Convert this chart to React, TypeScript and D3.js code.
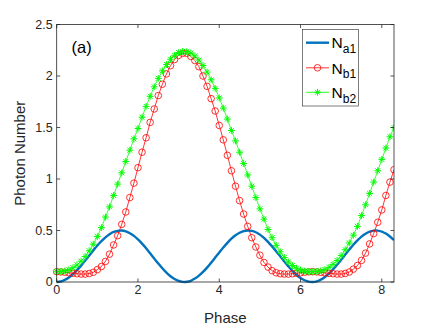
import React from "react";
import * as d3 from "d3";

// phase samples (x) and the three photon-number curves
const phase = [
  0, 0.1, 0.2, 0.3, 0.4, 0.5, 0.6, 0.7, 0.8, 0.9, 1.0, 1.1, 1.2, 1.3, 1.4, 1.5, 1.6, 1.7, 1.8, 1.9,
  2.0, 2.1, 2.2, 2.3, 2.4, 2.5, 2.6, 2.7, 2.8, 2.9, 3.0, 3.1, 3.2, 3.3, 3.4, 3.5, 3.6, 3.7, 3.8, 3.9,
  4.0, 4.1, 4.2, 4.3, 4.4, 4.5, 4.6, 4.7, 4.8, 4.9, 5.0, 5.1, 5.2, 5.3, 5.4, 5.5, 5.6, 5.7, 5.8, 5.9,
  6.0, 6.1, 6.2, 6.3, 6.4, 6.5, 6.6, 6.7, 6.8, 6.9, 7.0, 7.1, 7.2, 7.3, 7.4, 7.5, 7.6, 7.7, 7.8, 7.9,
  8.0, 8.1, 8.2, 8.3,
];

const na1 = [
  0, 0.005, 0.02, 0.044, 0.076, 0.115, 0.159, 0.208, 0.257, 0.307, 0.354, 0.397, 0.434, 0.464, 0.486, 0.497, 0.5, 0.492, 0.474, 0.448,
  0.413, 0.373, 0.327, 0.278, 0.228, 0.179, 0.133, 0.091, 0.056, 0.029, 0.01, 0.001, 0.002, 0.012, 0.033, 0.062, 0.098, 0.14, 0.187, 0.237,
  0.286, 0.335, 0.38, 0.42, 0.453, 0.478, 0.494, 0.5, 0.496, 0.483, 0.46, 0.429, 0.39, 0.346, 0.299, 0.249, 0.199, 0.152, 0.108, 0.07,
  0.039, 0.017, 0.003, 0, 0.007, 0.023, 0.049, 0.082, 0.122, 0.167, 0.216, 0.266, 0.315, 0.362, 0.404, 0.44, 0.468, 0.488, 0.499, 0.499,
  0.489, 0.47, 0.442, 0.407,
];

const nb1 = [
  0.1, 0.098, 0.095, 0.09, 0.085, 0.08, 0.077, 0.077, 0.082, 0.094, 0.12, 0.15, 0.2, 0.27, 0.36, 0.45, 0.56, 0.68, 0.82, 0.96,
  1.11, 1.26, 1.4, 1.55, 1.68, 1.81, 1.92, 2.02, 2.1, 2.16, 2.2, 2.22, 2.22, 2.19, 2.15, 2.09, 2.0, 1.9, 1.78, 1.66,
  1.52, 1.38, 1.23, 1.08, 0.93, 0.79, 0.66, 0.54, 0.43, 0.34, 0.26, 0.19, 0.145, 0.11, 0.09, 0.08, 0.077, 0.077, 0.08, 0.085,
  0.09, 0.095, 0.099, 0.1, 0.098, 0.094, 0.089, 0.084, 0.08, 0.077, 0.077, 0.083, 0.097, 0.125, 0.16, 0.21, 0.28, 0.37, 0.47, 0.58,
  0.7, 0.84, 0.97, 1.09,
];

const nb2 = [
  0.1, 0.101, 0.107, 0.118, 0.138, 0.165, 0.202, 0.247, 0.303, 0.367, 0.441, 0.528, 0.63, 0.73, 0.84, 0.95, 1.06, 1.17, 1.28, 1.39,
  1.49, 1.6, 1.705, 1.803, 1.895, 1.977, 2.05, 2.112, 2.163, 2.201, 2.227, 2.239, 2.237, 2.223, 2.195, 2.155, 2.102, 2.038, 1.963, 1.88,
  1.787, 1.688, 1.582, 1.471, 1.37, 1.26, 1.15, 1.04, 0.93, 0.82, 0.71, 0.61, 0.51, 0.43, 0.356, 0.293, 0.239, 0.195, 0.16, 0.134,
  0.116, 0.106, 0.101, 0.1, 0.102, 0.109, 0.121, 0.142, 0.171, 0.209, 0.256, 0.313, 0.379, 0.455, 0.54, 0.645, 0.75, 0.86, 0.97, 1.08,
  1.19, 1.3, 1.41, 1.5,
];

const xTicks = [0, 2, 4, 6, 8];
const yTicks = [0, 0.5, 1, 1.5, 2, 2.5];
const legendLabels = [
  { main: "N", sub: "a1" },
  { main: "N", sub: "b1" },
  { main: "N", sub: "b2" },
];

const W = 436;
const H = 327;
const left = 56.7;
const right = 394;
const top = 24.5;
const bottom = 282;

const axisColor = "#262626";
const blue = "#0072BD";
const red = "#FF0000";
const green = "#00FF00";
const font = "'Liberation Sans', Arial, sans-serif";

const star = (r: number) =>
  `M${-r},0L${r},0M0,${-r}L0,${r}` +
  `M${-r * 0.72},${-r * 0.72}L${r * 0.72},${r * 0.72}M${-r * 0.72},${r * 0.72}L${r * 0.72},${-r * 0.72}`;

export default function App() {
  const x = d3.scaleLinear().domain([0, 8.3]).range([left, right]);
  const y = d3.scaleLinear().domain([0, 2.5]).range([bottom, top]);

  const pts = (vals: number[]) => phase.map((p, i) => [p, vals[i]] as [number, number]);

  const smooth = d3
    .line<[number, number]>()
    .x((d) => x(d[0]))
    .y((d) => y(d[1]))
    .curve(d3.curveCatmullRom);
  const straight = d3
    .line<[number, number]>()
    .x((d) => x(d[0]))
    .y((d) => y(d[1]));

  const tick = 3.5;
  const legX = 302.5;
  const legY = 29.5;
  const rowY = [42.7, 67.8, 92.3];

  return (
    <svg
      width={W}
      height={H}
      style={{ position: "absolute", left: 0, top: 0, background: "#fff" }}
      fontFamily={font}
    >
      <rect x={0} y={0} width={W} height={H} fill="#fff" />
      <rect x={left} y={top} width={right - left} height={bottom - top} fill="#fff" />

      {/* curves */}
      <g clipPath="url(#plotclip)">
        <path d={smooth(pts(na1)) || ""} fill="none" stroke={blue} strokeWidth={2.4} />
        <path d={straight(pts(nb1)) || ""} fill="none" stroke={red} strokeWidth={0.8} />
        {pts(nb1).map((d, i) => (
          <circle key={"r" + i} cx={x(d[0])} cy={y(d[1])} r={3.3} fill="none" stroke={red} strokeWidth={0.8} />
        ))}
        <path d={straight(pts(nb2)) || ""} fill="none" stroke={green} strokeWidth={0.8} />
        {pts(nb2).map((d, i) => (
          <path
            key={"g" + i}
            d={star(3.4)}
            transform={`translate(${x(d[0])},${y(d[1])})`}
            stroke={green}
            strokeWidth={1}
            fill="none"
          />
        ))}
      </g>
      <defs>
        <clipPath id="plotclip">
          <rect x={left - 4} y={top - 4} width={right - left + 4} height={bottom - top + 8} />
        </clipPath>
      </defs>

      {/* box and ticks */}
      <rect x={left} y={top} width={right - left} height={bottom - top} fill="none" stroke={axisColor} strokeWidth={0.8} />
      {xTicks.map((t) => (
        <g key={"xt" + t}>
          <line x1={x(t)} x2={x(t)} y1={bottom} y2={bottom - tick} stroke={axisColor} strokeWidth={0.8} />
          <line x1={x(t)} x2={x(t)} y1={top} y2={top + tick} stroke={axisColor} strokeWidth={0.8} />
          <text x={x(t)} y={bottom + 11.5} textAnchor="middle" fontSize={12.5} fill={axisColor}>
            {t}
          </text>
        </g>
      ))}
      {yTicks.map((t) => (
        <g key={"yt" + t}>
          <line x1={left} x2={left + tick} y1={y(t)} y2={y(t)} stroke={axisColor} strokeWidth={0.8} />
          <line x1={right} x2={right - tick} y1={y(t)} y2={y(t)} stroke={axisColor} strokeWidth={0.8} />
          <text x={left - 4} y={y(t) + 4.4} textAnchor="end" fontSize={12.5} fill={axisColor}>
            {t}
          </text>
        </g>
      ))}

      {/* labels */}
      <text x={(left + right) / 2} y={323} textAnchor="middle" fontSize={15} fill={axisColor}>
        Phase
      </text>
      <text
        transform={`translate(25,${(top + bottom) / 2}) rotate(-90)`}
        textAnchor="middle"
        fontSize={15}
        fill={axisColor}
      >
        Photon Number
      </text>
      <text x={71.5} y={53} fontSize={16.5} fill="#000">
        (a)
      </text>

      {/* legend */}
      <rect x={legX} y={legY} width={56} height={76.5} fill="#fff" stroke={axisColor} strokeWidth={0.6} />
      <line x1={306} x2={329} y1={rowY[0]} y2={rowY[0]} stroke={blue} strokeWidth={2.4} />
      <line x1={306} x2={329} y1={rowY[1]} y2={rowY[1]} stroke={red} strokeWidth={0.8} />
      <circle cx={317.5} cy={rowY[1]} r={3.3} fill="none" stroke={red} strokeWidth={0.8} />
      <line x1={306} x2={329} y1={rowY[2]} y2={rowY[2]} stroke={green} strokeWidth={0.8} />
      <path d={star(3.4)} transform={`translate(317.5,${rowY[2]})`} stroke={green} strokeWidth={1} fill="none" />
      {legendLabels.map((l, i) => (
        <text key={"lg" + i} x={331.5} y={rowY[i] + 5.7} fontSize={15.5} fill="#000">
          <tspan>{l.main}</tspan>
          <tspan dy={4.5} fontSize={12}>
            {l.sub}
          </tspan>
        </text>
      ))}
    </svg>
  );
}
